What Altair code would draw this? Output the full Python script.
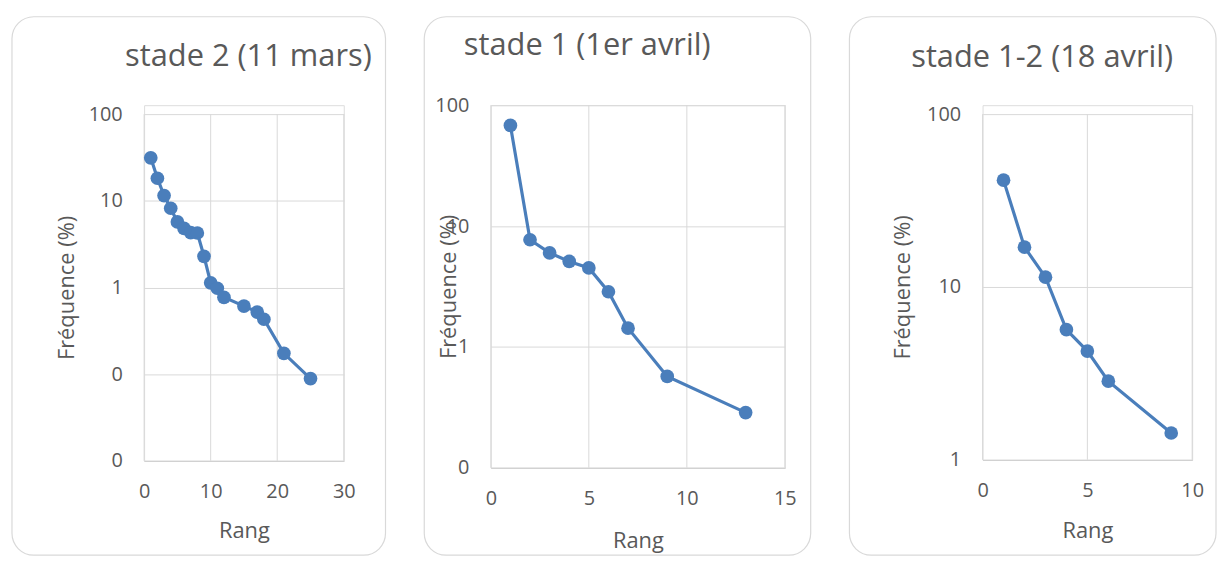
import altair as alt
import pandas as pd

# ---- data ----
titles = ["stade 2 (11 mars)", "stade 1 (1er avril)", "stade 1-2 (18 avril)"]

rang_1 = [1, 2, 3, 4, 5, 6, 7, 8, 9, 10, 11, 12, 15, 17, 18, 21, 25]
freq_1 = [31.3, 18.2, 11.5, 8.2, 5.7, 4.8, 4.3, 4.25, 2.29, 1.13, 0.98, 0.77,
          0.61, 0.52, 0.43, 0.174, 0.089]

rang_2 = [1, 2, 3, 4, 5, 6, 7, 9, 13]
freq_2 = [68, 7.7, 6.0, 5.1, 4.5, 2.86, 1.43, 0.57, 0.286]

rang_3 = [1, 2, 3, 4, 5, 6, 9]
freq_3 = [41.5, 17.0, 11.4, 5.66, 4.26, 2.85, 1.43]

x_ticks = [[0, 10, 20, 30], [0, 5, 10, 15], [0, 5, 10]]
y_ticks = [[0.01, 0.1, 1, 10, 100], [0.1, 1, 10, 100], [1, 10, 100]]

FONT = "Open Sans"
TXT = "#595959"
GRID = "#d9d9d9"
BLUE = "#4a7ebb"


def panel(rang, freq, title, xt, yt, w, h, top_gap, box, tpos, ytitle_x, xtitle_y):
    # h = visible plot height; top_gap = empty px kept above the plot area
    df = pd.DataFrame({"Rang": rang, "Freq": freq})
    one = pd.DataFrame({"t": [title]})
    vlines = pd.DataFrame({"x": xt, "y0": [yt[0]] * len(xt), "y1": [yt[-1]] * len(xt)})
    decades = len(yt) - 1
    top = yt[-1] * 10 ** (top_gap * decades / h)
    H = h + top_gap
    xs = alt.Scale(domain=[xt[0], xt[-1]], nice=False, zero=False)
    ys = alt.Scale(type="log", domain=[yt[0], top], nice=False)
    xax = alt.Axis(values=xt, grid=False, domainColor="#cfcfcf",
                   ticks=False, tickSize=0, labelFlush=False, labelBaseline="middle",
                   labelPadding=31, labelFont=FONT, labelFontSize=20,
                   labelColor=TXT, title="Rang", titleFont=FONT, titleFontSize=22,
                   titleFontWeight="normal", titleColor=TXT, titleX=w / 2,
                   titleY=xtitle_y, titleBaseline="alphabetic")
    yax = alt.Axis(values=yt, format=".0f", grid=True, gridColor=GRID, domain=False,
                   ticks=False, tickSize=0, labelPadding=22,
                   labelFont=FONT, labelFontSize=20, labelColor=TXT, labelOverlap=False,
                   title="Fréquence (%)", titleFont=FONT, titleFontSize=22,
                   titleFontWeight="normal", titleColor=TXT, titleX=ytitle_x,
                   titleY=top_gap + h / 2, titleBaseline="alphabetic", titleAngle=270,
                   titleAlign="center")
    base = alt.Chart(df).encode(
        x=alt.X("Rang:Q", scale=xs, axis=xax),
        y=alt.Y("Freq:Q", scale=ys, axis=yax),
    )
    grid_v = alt.Chart(vlines).mark_rule(color=GRID, strokeWidth=1).encode(
        x=alt.X("x:Q", scale=xs), y=alt.Y("y0:Q", scale=ys), y2="y1:Q"
    )
    line = base.mark_line(color=BLUE, strokeWidth=3.2)
    pts = base.mark_circle(color=BLUE, size=190, opacity=1)
    frame = alt.Chart(one).mark_rect(
        cornerRadius=22, fillOpacity=0, stroke="#d9d9d9", strokeWidth=1.2
    ).encode(x=alt.value(box[0]), x2=alt.value(box[1]),
             y=alt.value(box[2]), y2=alt.value(box[3]))
    ttl = alt.Chart(one).mark_text(
        font=FONT, fontSize=31, color=TXT, align="center", baseline="alphabetic"
    ).encode(text="t:N", x=alt.value(tpos[0]), y=alt.value(tpos[1]))
    return alt.layer(frame, grid_v, line, pts, ttl).properties(width=w, height=H)


# all plot origins sit at y=103 (page); panels 1 and 3 keep a 9px gap above
p1 = panel(rang_1, freq_1, titles[0], x_ticks[0], y_ticks[0], 201, 349, 9,
           (-133, 243, -89, 453), (105, -39), -71, 77)
p2 = panel(rang_2, freq_2, titles[1], x_ticks[1], y_ticks[1], 296, 365, 0,
           (-67, 322, -89, 453), (97, -51), -36, 80)
p3 = panel(rang_3, freq_3, titles[2], x_ticks[2], y_ticks[2], 211, 348, 9,
           (-134, 235, -89, 453), (60, -38), -74, 78)

chart = alt.concat(p1, p2, p3, columns=3, spacing=35).properties(
    padding={"left": 2, "top": 5, "right": 0, "bottom": 0}
).configure_view(strokeWidth=0).configure(background="white")

chart.save("out.html", embed_options={"renderer": "svg", "actions": False})
